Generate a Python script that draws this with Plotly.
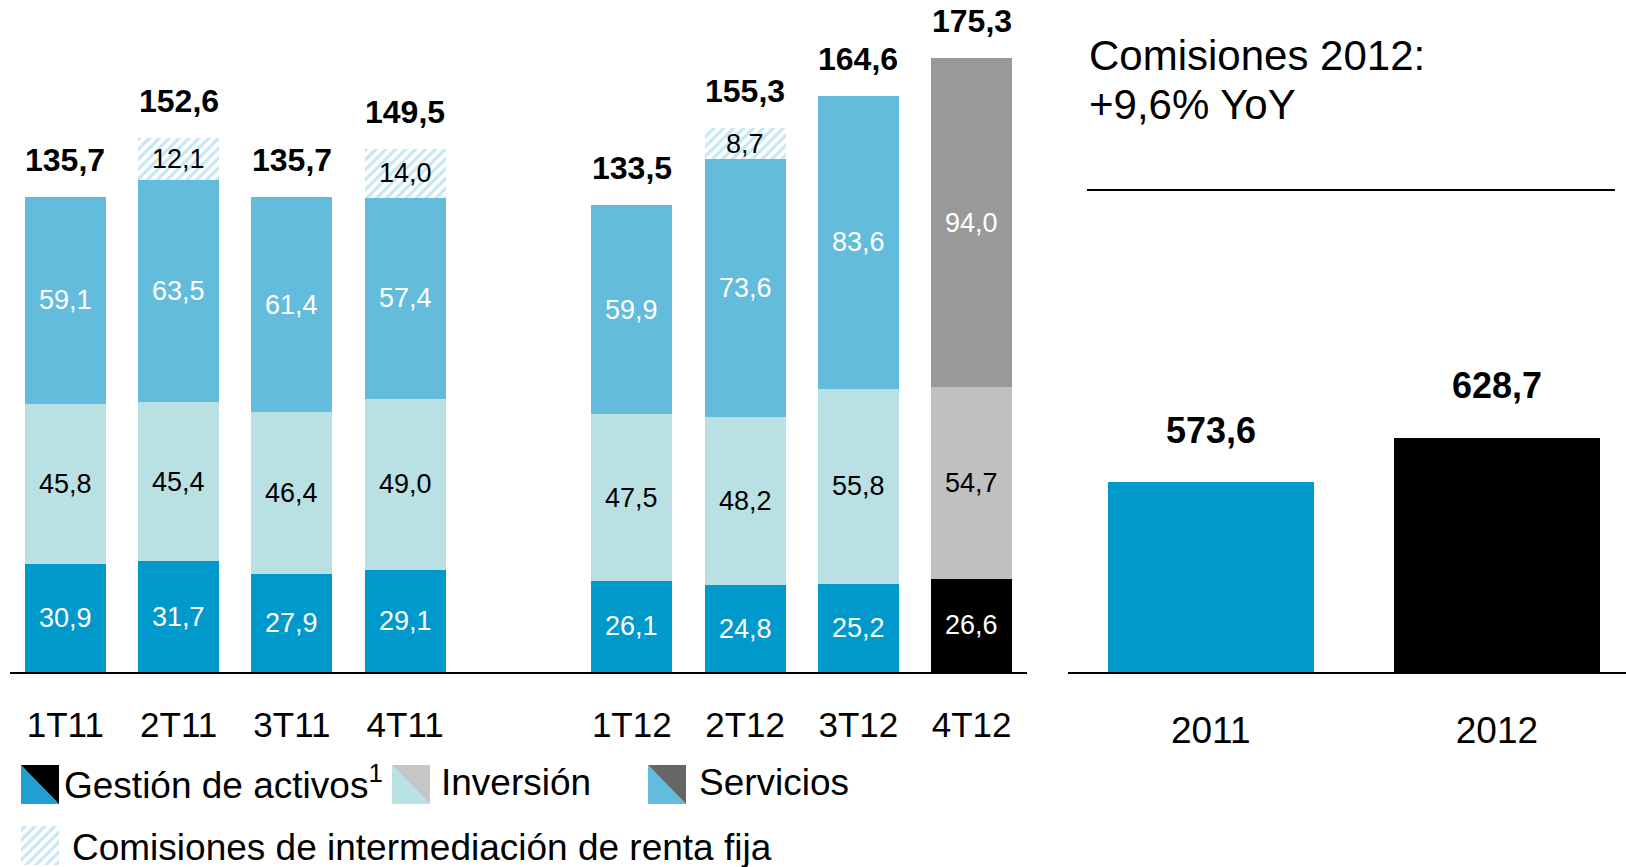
import plotly.graph_objects as go

W, H = 1626, 867
FONT = "Arial, 'Liberation Sans', sans-serif"

# ---------------- data ----------------
quarters = ["1T11", "2T11", "3T11", "4T11", "1T12", "2T12", "3T12", "4T12"]
slots = [0, 1, 2, 3, 5, 6, 7, 8]
gestion = [30.9, 31.7, 27.9, 29.1, 26.1, 24.8, 25.2, 26.6]
inversion = [45.8, 45.4, 46.4, 49.0, 47.5, 48.2, 55.8, 54.7]
servicios = [59.1, 63.5, 61.4, 57.4, 59.9, 73.6, 83.6, 94.0]
renta_fija = [None, 12.1, None, 14.0, None, 8.7, None, None]
totales = [135.7, 152.6, 135.7, 149.5, 133.5, 155.3, 164.6, 175.3]

years = ["2011", "2012"]
annual = [573.6, 628.7]

title_lines = ["Comisiones 2012:", "+9,6% YoY"]

# ---------------- styles ----------------
c_gest = ["#0099cc"] * 7 + ["#000000"]
c_inv = ["#b9e1e4"] * 7 + ["#c0c0c0"]
c_serv = ["#63bcdc"] * 7 + ["#999999"]
hatch_fg = "#8ccfe6"


def fmt(v):
    return f"{v:.1f}".replace(".", ",")


def px(x):
    return x / W


def py(y):
    return 1 - y / H


BASE_Y = 672
ydom = [py(BASE_Y), 1]
left_scale = 3.50
right_scale = 0.806

fig = go.Figure()

BW = 0.715
series = [
    (gestion, c_gest, ["white"] * 8),
    (inversion, c_inv, ["black"] * 8),
    (servicios, c_serv, ["white"] * 8),
]
annotations = []
cum = [0.0] * 8
for vals, cols, tcols in series:
    fig.add_trace(go.Bar(x=slots, y=vals, width=BW, marker=dict(color=cols, line_width=0),
                         xaxis="x", yaxis="y", showlegend=False, hoverinfo="skip"))
    for i, v in enumerate(vals):
        annotations.append(dict(x=slots[i], y=cum[i] + v / 2, xref="x", yref="y",
                                text=fmt(v), showarrow=False, yanchor="middle",
                                font=dict(family=FONT, size=27, color=tcols[i])))
        cum[i] += v

fig.add_trace(go.Bar(x=slots, y=renta_fija, width=BW,
                     marker=dict(color="white", line_width=0,
                                 pattern=dict(shape="/", fgcolor=hatch_fg, bgcolor="white",
                                              size=7, solidity=0.45)),
                     xaxis="x", yaxis="y", showlegend=False, hoverinfo="skip"))
for i, v in enumerate(renta_fija):
    if v is not None:
        annotations.append(dict(x=slots[i], y=cum[i] + v / 2, xref="x", yref="y",
                                text=fmt(v), showarrow=False, yanchor="middle",
                                font=dict(family=FONT, size=27, color="black")))

# right chart
fig.add_trace(go.Bar(x=[0, 1], y=annual, width=0.72,
                     marker=dict(color=["#0099cc", "#000000"], line_width=0),
                     xaxis="x2", yaxis="y2", showlegend=False, hoverinfo="skip"))

# legend hatched swatch on a pixel overlay axis
fig.add_trace(go.Scatter(x=[21, 59, 59, 21, 21], y=[826, 826, 865, 865, 826],
                         mode="lines", line=dict(width=0), fill="toself",
                         fillcolor="white",
                         fillpattern=dict(shape="/", fgcolor=hatch_fg, bgcolor="white",
                                          size=7, solidity=0.45),
                         xaxis="x3", yaxis="y3", showlegend=False, hoverinfo="skip"))

for s, t in zip(slots, totales):
    annotations.append(dict(x=s, y=t, xref="x", yref="y", text=f"<b>{fmt(t)}</b>",
                            showarrow=False, yanchor="middle", yshift=37,
                            font=dict(family=FONT, size=32, color="black")))
for i, v in enumerate(annual):
    annotations.append(dict(x=i, y=v, xref="x2", yref="y2", text=f"<b>{fmt(v)}</b>",
                            showarrow=False, yanchor="middle", yshift=52,
                            font=dict(family=FONT, size=36, color="black")))

annotations.append(dict(x=px(1087), y=py(55), xref="paper", yref="paper", text=title_lines[0],
                        showarrow=False, xanchor="left", yanchor="middle",
                        font=dict(family=FONT, size=42, color="black")))
annotations.append(dict(x=px(1087), y=py(105), xref="paper", yref="paper", text=title_lines[1],
                        showarrow=False, xanchor="left", yanchor="middle",
                        font=dict(family=FONT, size=42, color="black")))

leg_font = dict(family=FONT, size=37, color="black")
legend_items = [
    (21, 59, 62, "Gestión de activos<sup>1</sup>", "#1fa0d0", "#000000"),
    (392, 430, 439, "Inversión", "#b9e1e4", "#c6c6c6"),
    (648, 686, 697, "Servicios", "#63bcdc", "#666666"),
]
shapes = []
y0, y1 = 765, 804
for x0, x1, tx, label, c_bl, c_tr in legend_items:
    shapes.append(dict(type="path", xref="paper", yref="paper",
                       path=f"M {px(x0)},{py(y0)} L {px(x0)},{py(y1)} L {px(x1)},{py(y1)} Z",
                       fillcolor=c_bl, line=dict(width=0)))
    shapes.append(dict(type="path", xref="paper", yref="paper",
                       path=f"M {px(x0)},{py(y0)} L {px(x1)},{py(y0)} L {px(x1)},{py(y1)} Z",
                       fillcolor=c_tr, line=dict(width=0)))
    annotations.append(dict(x=px(tx), y=py(782), xref="paper", yref="paper", text=label,
                            showarrow=False, xanchor="left", yanchor="middle", font=leg_font))
annotations.append(dict(x=px(70), y=py(847), xref="paper", yref="paper",
                        text="Comisiones de intermediación de renta fija",
                        showarrow=False, xanchor="left", yanchor="middle", font=leg_font))

shapes.append(dict(type="line", xref="paper", yref="paper", x0=px(1087), x1=px(1615),
                   y0=py(190), y1=py(190), line=dict(color="black", width=2)))

fig.update_layout(
    width=W, height=H,
    margin=dict(l=0, r=0, t=0, b=0),
    paper_bgcolor="white", plot_bgcolor="rgba(0,0,0,0)",
    barmode="stack",
    font=dict(family=FONT),
    xaxis=dict(domain=[px(10.4), px(1026.6)], range=[-0.485, 8.485], anchor="y",
               tickvals=slots, ticktext=quarters, ticks="", showgrid=False, zeroline=False,
               showline=True, linecolor="black", linewidth=2,
               tickfont=dict(family=FONT, size=35, color="black"), ticklabelstandoff=21),
    yaxis=dict(domain=ydom, range=[0, BASE_Y / left_scale], visible=False, anchor="x"),
    xaxis2=dict(domain=[px(1068), 1], range=[-0.4986, 1.451], anchor="y2",
                tickvals=[0, 1], ticktext=years, ticks="", showgrid=False, zeroline=False,
                showline=True, linecolor="black", linewidth=2,
                tickfont=dict(family=FONT, size=37, color="black"), ticklabelstandoff=25),
    yaxis2=dict(domain=ydom, range=[337.9, 337.9 + BASE_Y / right_scale], visible=False,
                anchor="x2"),
    xaxis3=dict(domain=[0, 1], range=[0, W], visible=False, anchor="y3"),
    yaxis3=dict(domain=[0, 1], range=[H, 0], visible=False, anchor="x3"),
    annotations=annotations,
    shapes=shapes,
)

fig.write_html("out.html", config={"displayModeBar": False},
               post_script="document.body.style.margin='0px';document.body.style.overflow='hidden';")
